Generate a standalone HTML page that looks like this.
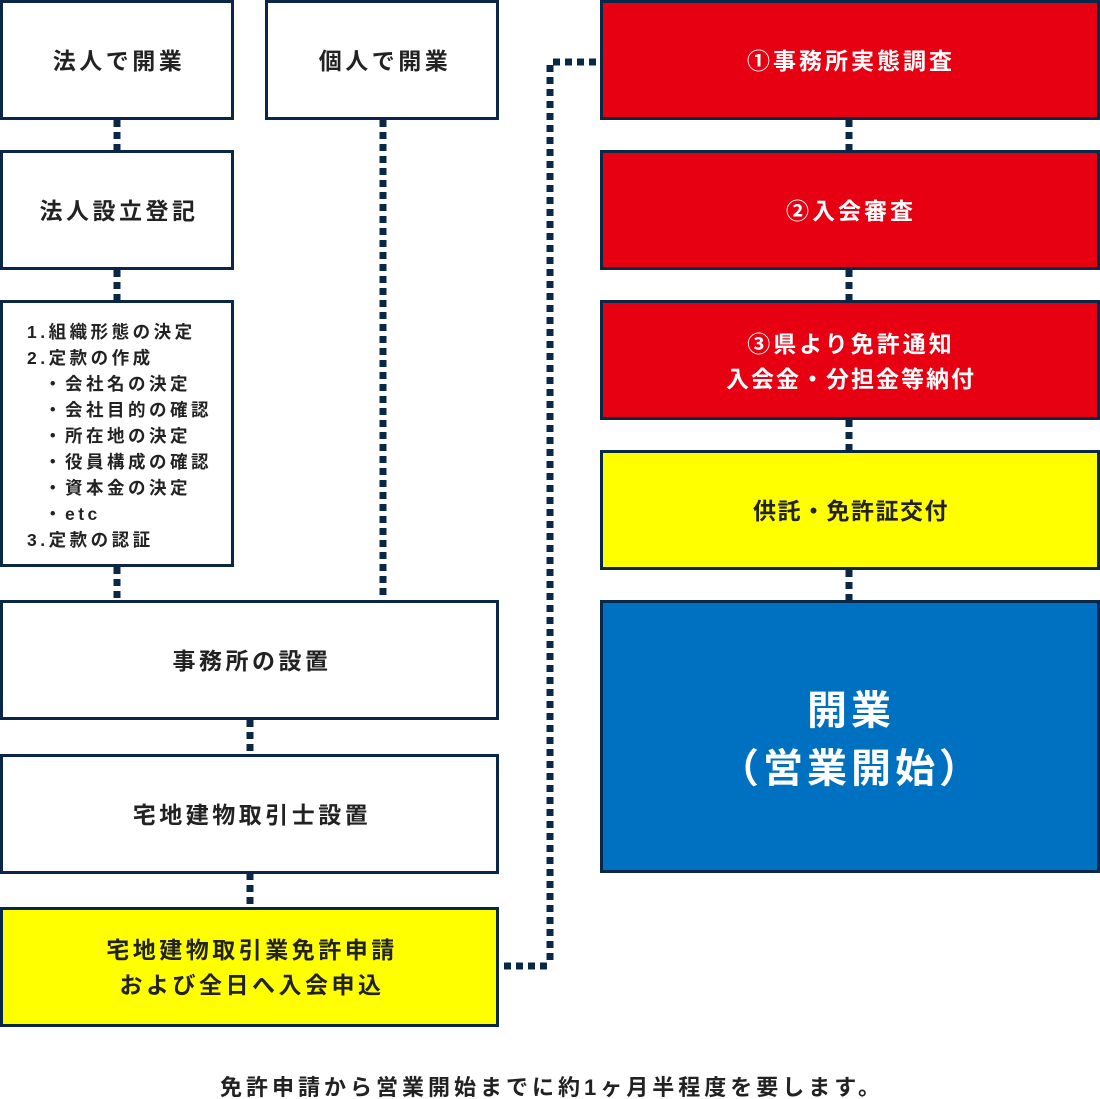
<!DOCTYPE html>
<html><head><meta charset="utf-8"><style>
html,body{margin:0;padding:0;background:#fff}
svg{display:block}
text{font-family:"Liberation Sans","Noto Sans CJK JP",sans-serif;font-weight:bold;fill:#222}
</style></head><body>
<svg width="1100" height="1099" viewBox="0 0 1100 1099" xmlns="http://www.w3.org/2000/svg">
<g stroke="#0b2748" stroke-width="7" stroke-dasharray="7 5" fill="none">
<line x1="117" y1="120" x2="117" y2="150"/>
<line x1="117" y1="270" x2="117" y2="300"/>
<line x1="117" y1="567" x2="117" y2="600"/>
<line x1="383" y1="120" x2="383" y2="600"/>
<line x1="250" y1="720" x2="250" y2="754"/>
<line x1="250" y1="873" x2="250" y2="907"/>
<line x1="849" y1="120" x2="849" y2="150"/>
<line x1="849" y1="270" x2="849" y2="300"/>
<line x1="849" y1="420" x2="849" y2="450"/>
<line x1="849" y1="570" x2="849" y2="600"/>
<line x1="504" y1="966" x2="550" y2="966"/>
<line x1="550" y1="960" x2="550" y2="62"/>
<line x1="553" y1="62" x2="600" y2="62"/>
</g>
<g stroke="#0b2748" stroke-width="3">
<rect x="1.5" y="1.5" width="231" height="117" fill="#fff"/>
<rect x="266.5" y="1.5" width="231" height="117" fill="#fff"/>
<rect x="1.5" y="151.5" width="231" height="117" fill="#fff"/>
<rect x="1.5" y="301.5" width="231" height="264" fill="#fff"/>
<rect x="1.5" y="601.5" width="496" height="117" fill="#fff"/>
<rect x="1.5" y="755.5" width="496" height="117" fill="#fff"/>
<rect x="1.5" y="908.5" width="496" height="117" fill="#ffff00"/>
<rect x="601.5" y="1.5" width="497" height="117" fill="#e60012"/>
<rect x="601.5" y="151.5" width="497" height="117" fill="#e60012"/>
<rect x="601.5" y="301.5" width="497" height="117" fill="#e60012"/>
<rect x="601.5" y="451.5" width="497" height="117" fill="#ffff00"/>
<rect x="601.5" y="601.5" width="497" height="270" fill="#0071c1"/>
</g>
<g font-size="23" text-anchor="middle" letter-spacing="3.5">
<text x="119" y="69">法人で開業</text>
<text x="385" y="69">個人で開業</text>
<text x="119" y="219">法人設立登記</text>
<text x="252" y="669">事務所の設置</text>
<text x="252" y="823">宅地建物取引士設置</text>
<text x="252" y="958">宅地建物取引業免許申請</text>
<text x="252" y="993">および全日へ入会申込</text>
<text x="851" y="519" letter-spacing="1.5">供託・免許証交付</text>
<text x="851" y="69" style="fill:#fff" letter-spacing="3">①事務所実態調査</text>
<text x="851" y="219" style="fill:#fff" letter-spacing="3">②入会審査</text>
<text x="851" y="352" style="fill:#fff" letter-spacing="3">③県より免許通知</text>
<text x="851" y="387" style="fill:#fff" letter-spacing="2">入会金・分担金等納付</text>
<text x="851" y="724" font-size="40" style="fill:#fff" letter-spacing="4">開業</text>
<text x="851" y="782" font-size="40" style="fill:#fff" letter-spacing="4">（営業開始）</text>
</g>
<g font-size="17.5" letter-spacing="3.5">
<text x="27" y="338">1.組織形態の決定</text>
<text x="27" y="364">2.定款の作成</text>
<text x="44" y="390">・会社名の決定</text>
<text x="44" y="416">・会社目的の確認</text>
<text x="44" y="442">・所在地の決定</text>
<text x="44" y="468">・役員構成の確認</text>
<text x="44" y="494">・資本金の決定</text>
<text x="44" y="520">・etc</text>
<text x="27" y="546">3.定款の認証</text>
</g>
<text x="552" y="1095" font-size="22" text-anchor="middle" letter-spacing="4">免許申請から営業開始までに約1ヶ月半程度を要します。</text>
</svg>
</body></html>
